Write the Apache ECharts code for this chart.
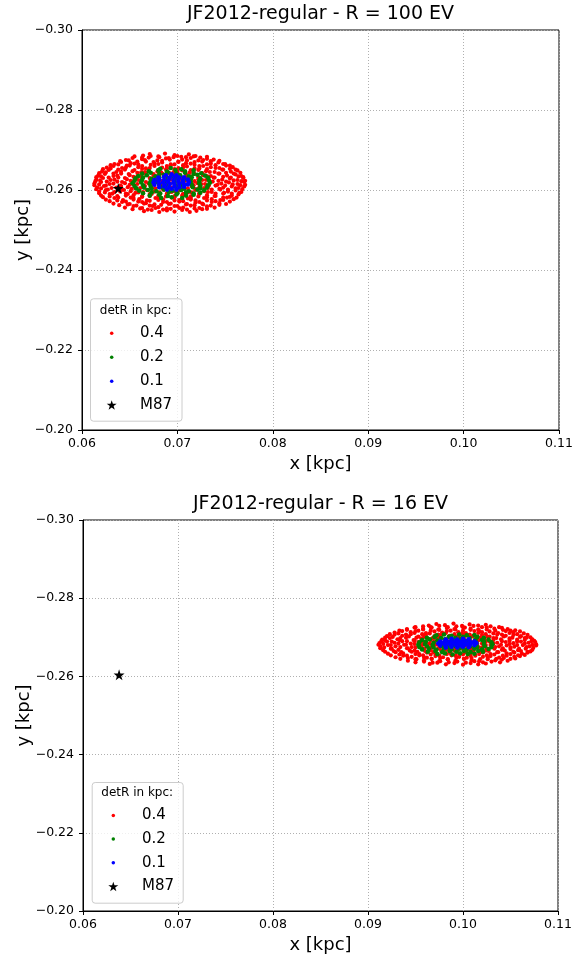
<!DOCTYPE html>
<html>
<head>
<meta charset="utf-8">
<script src="https://cdn.jsdelivr.net/npm/echarts@6/dist/echarts.min.js"></script>
<style>html,body{margin:0;padding:0;background:#fff}#c{width:573px;height:956px}</style>
</head>
<body>
<div id="c"></div>
<script>
// ---------- data (kpc) ----------
const titles = ['JF2012-regular - R = 100 EV', 'JF2012-regular - R = 16 EV'];
const seriesNames = ['0.4', '0.2', '0.1', 'M87'];
const xTicks = [0.06, 0.07, 0.08, 0.09, 0.10, 0.11];
const yTicks = [-0.30, -0.28, -0.26, -0.24, -0.22, -0.20];
const m87 = [[0.0638, -0.2604]];

// Top panel (R = 100 EV)
const red1 = [
[0.0664,-0.2686],[0.0671,-0.2690],[0.0680,-0.2684],[0.0687,-0.2691],[0.0697,-0.2687],[0.0704,-0.2683],[0.0712,-0.2689],[0.0719,-0.2685],
[0.0655,-0.2684],[0.0663,-0.2681],[0.0672,-0.2685],[0.0681,-0.2682],[0.0691,-0.2680],[0.0700,-0.2685],[0.0709,-0.2682],[0.0717,-0.2684],[0.0724,-0.2681],[0.0731,-0.2683],
[0.0646,-0.2675],[0.0653,-0.2680],[0.0663,-0.2677],[0.0670,-0.2681],[0.0679,-0.2674],[0.0688,-0.2679],[0.0696,-0.2682],[0.0705,-0.2676],[0.0714,-0.2680],[0.0722,-0.2674],[0.0731,-0.2678],[0.0738,-0.2676],
[0.0640,-0.2672],[0.0649,-0.2674],[0.0658,-0.2671],[0.0666,-0.2675],[0.0675,-0.2670],[0.0684,-0.2673],[0.0692,-0.2676],[0.0701,-0.2671],[0.0710,-0.2674],[0.0718,-0.2670],[0.0727,-0.2675],[0.0735,-0.2672],[0.0744,-0.2673],
[0.0634,-0.2665],[0.0641,-0.2670],[0.0651,-0.2667],[0.0659,-0.2664],[0.0667,-0.2671],[0.0676,-0.2666],[0.0684,-0.2669],[0.0693,-0.2664],[0.0701,-0.2670],[0.0709,-0.2667],[0.0718,-0.2663],[0.0726,-0.2671],[0.0735,-0.2666],[0.0743,-0.2669],[0.0750,-0.2665],
[0.0630,-0.2662],[0.0638,-0.2664],[0.0647,-0.2661],[0.0655,-0.2666],[0.0663,-0.2660],[0.0672,-0.2663],[0.0680,-0.2665],[0.0689,-0.2660],[0.0697,-0.2664],[0.0706,-0.2662],[0.0714,-0.2666],[0.0723,-0.2660],[0.0731,-0.2664],[0.0740,-0.2662],[0.0748,-0.2665],[0.0755,-0.2661],
[0.0626,-0.2656],[0.0633,-0.2660],[0.0642,-0.2655],[0.0650,-0.2661],[0.0659,-0.2657],[0.0667,-0.2654],[0.0676,-0.2660],[0.0684,-0.2656],[0.0693,-0.2661],[0.0701,-0.2655],[0.0710,-0.2659],[0.0718,-0.2654],[0.0727,-0.2660],[0.0735,-0.2657],[0.0744,-0.2655],[0.0751,-0.2661],[0.0758,-0.2657],
[0.0622,-0.2652],[0.0630,-0.2654],[0.0638,-0.2651],[0.0646,-0.2656],[0.0655,-0.2650],[0.0663,-0.2653],[0.0671,-0.2655],[0.0680,-0.2650],[0.0689,-0.2654],[0.0697,-0.2652],[0.0706,-0.2656],[0.0714,-0.2650],[0.0723,-0.2654],[0.0731,-0.2652],[0.0740,-0.2655],[0.0748,-0.2651],[0.0755,-0.2653],[0.0761,-0.2651],
[0.0621,-0.2646],[0.0628,-0.2650],[0.0636,-0.2645],[0.0645,-0.2651],[0.0653,-0.2647],[0.0662,-0.2644],[0.0670,-0.2650],[0.0679,-0.2646],[0.0688,-0.2651],[0.0696,-0.2645],[0.0705,-0.2649],[0.0713,-0.2644],[0.0722,-0.2650],[0.0730,-0.2647],[0.0739,-0.2645],[0.0747,-0.2651],[0.0756,-0.2646],[0.0763,-0.2649],
[0.0618,-0.2642],[0.0625,-0.2644],[0.0633,-0.2641],[0.0641,-0.2646],[0.0649,-0.2640],[0.0658,-0.2643],[0.0666,-0.2645],[0.0675,-0.2640],[0.0683,-0.2644],[0.0692,-0.2642],[0.0700,-0.2646],[0.0709,-0.2640],[0.0717,-0.2644],[0.0726,-0.2642],[0.0734,-0.2645],[0.0743,-0.2641],[0.0751,-0.2643],[0.0759,-0.2641],[0.0766,-0.2643],
[0.0617,-0.2636],[0.0624,-0.2640],[0.0633,-0.2635],[0.0641,-0.2641],[0.0650,-0.2637],[0.0658,-0.2634],[0.0667,-0.2640],[0.0675,-0.2636],[0.0684,-0.2641],[0.0693,-0.2635],[0.0701,-0.2639],[0.0710,-0.2634],[0.0718,-0.2640],[0.0727,-0.2637],[0.0735,-0.2635],[0.0744,-0.2641],[0.0752,-0.2636],[0.0761,-0.2639],[0.0767,-0.2635],
[0.0615,-0.2632],[0.0620,-0.2634],[0.0628,-0.2631],[0.0637,-0.2636],[0.0645,-0.2630],[0.0654,-0.2633],[0.0662,-0.2635],[0.0671,-0.2630],[0.0679,-0.2634],[0.0688,-0.2632],[0.0697,-0.2636],[0.0705,-0.2630],[0.0714,-0.2634],[0.0722,-0.2632],[0.0731,-0.2635],[0.0739,-0.2631],[0.0748,-0.2633],[0.0756,-0.2631],[0.0764,-0.2634],[0.0769,-0.2632],
[0.0615,-0.2626],[0.0622,-0.2630],[0.0630,-0.2625],[0.0638,-0.2631],[0.0647,-0.2627],[0.0655,-0.2624],[0.0663,-0.2630],[0.0672,-0.2626],[0.0680,-0.2631],[0.0688,-0.2625],[0.0697,-0.2629],[0.0705,-0.2624],[0.0713,-0.2630],[0.0722,-0.2627],[0.0730,-0.2625],[0.0738,-0.2631],[0.0747,-0.2626],[0.0755,-0.2629],[0.0763,-0.2625],[0.0769,-0.2630],
[0.0614,-0.2622],[0.0619,-0.2624],[0.0626,-0.2621],[0.0634,-0.2626],[0.0642,-0.2620],[0.0651,-0.2623],[0.0659,-0.2625],[0.0667,-0.2620],[0.0676,-0.2624],[0.0684,-0.2622],[0.0693,-0.2626],[0.0701,-0.2620],[0.0709,-0.2624],[0.0718,-0.2622],[0.0726,-0.2625],[0.0734,-0.2621],[0.0743,-0.2623],[0.0751,-0.2621],[0.0759,-0.2624],[0.0767,-0.2622],[0.0771,-0.2623],
[0.0613,-0.2616],[0.0620,-0.2620],[0.0629,-0.2615],[0.0637,-0.2621],[0.0645,-0.2617],[0.0654,-0.2614],[0.0662,-0.2620],[0.0670,-0.2616],[0.0679,-0.2621],[0.0687,-0.2615],[0.0696,-0.2619],[0.0704,-0.2614],[0.0712,-0.2620],[0.0721,-0.2617],[0.0729,-0.2615],[0.0737,-0.2621],[0.0746,-0.2616],[0.0754,-0.2619],[0.0763,-0.2615],[0.0770,-0.2620],
[0.0613,-0.2612],[0.0618,-0.2614],[0.0625,-0.2611],[0.0633,-0.2616],[0.0641,-0.2610],[0.0650,-0.2613],[0.0658,-0.2615],[0.0666,-0.2610],[0.0675,-0.2614],[0.0683,-0.2612],[0.0692,-0.2616],[0.0700,-0.2610],[0.0708,-0.2614],[0.0717,-0.2612],[0.0725,-0.2615],[0.0733,-0.2611],[0.0742,-0.2613],[0.0750,-0.2611],[0.0758,-0.2614],[0.0766,-0.2612],[0.0771,-0.2613],
[0.0616,-0.2606],[0.0623,-0.2610],[0.0631,-0.2605],[0.0640,-0.2611],[0.0648,-0.2607],[0.0656,-0.2604],[0.0665,-0.2610],[0.0673,-0.2606],[0.0681,-0.2611],[0.0690,-0.2605],[0.0698,-0.2609],[0.0707,-0.2604],[0.0715,-0.2610],[0.0723,-0.2607],[0.0732,-0.2605],[0.0740,-0.2611],[0.0748,-0.2606],[0.0757,-0.2609],[0.0764,-0.2605],[0.0770,-0.2609],
[0.0615,-0.2602],[0.0620,-0.2604],[0.0627,-0.2601],[0.0636,-0.2606],[0.0644,-0.2600],[0.0652,-0.2603],[0.0661,-0.2605],[0.0669,-0.2600],[0.0677,-0.2604],[0.0686,-0.2602],[0.0694,-0.2606],[0.0703,-0.2600],[0.0711,-0.2604],[0.0719,-0.2602],[0.0728,-0.2605],[0.0736,-0.2601],[0.0744,-0.2603],[0.0753,-0.2601],[0.0761,-0.2604],[0.0768,-0.2602],
[0.0618,-0.2596],[0.0625,-0.2600],[0.0634,-0.2595],[0.0642,-0.2601],[0.0651,-0.2597],[0.0659,-0.2594],[0.0668,-0.2600],[0.0676,-0.2596],[0.0685,-0.2601],[0.0694,-0.2595],[0.0702,-0.2599],[0.0711,-0.2594],[0.0719,-0.2600],[0.0728,-0.2597],[0.0736,-0.2595],[0.0745,-0.2601],[0.0753,-0.2596],[0.0761,-0.2599],[0.0767,-0.2595],
[0.0618,-0.2592],[0.0624,-0.2594],[0.0632,-0.2591],[0.0640,-0.2596],[0.0648,-0.2590],[0.0656,-0.2593],[0.0664,-0.2595],[0.0673,-0.2590],[0.0681,-0.2594],[0.0690,-0.2592],[0.0698,-0.2596],[0.0706,-0.2590],[0.0715,-0.2594],[0.0723,-0.2592],[0.0732,-0.2595],[0.0740,-0.2591],[0.0749,-0.2593],[0.0757,-0.2591],[0.0765,-0.2593],
[0.0620,-0.2586],[0.0629,-0.2590],[0.0637,-0.2585],[0.0646,-0.2591],[0.0654,-0.2587],[0.0663,-0.2584],[0.0671,-0.2590],[0.0680,-0.2586],[0.0689,-0.2591],[0.0697,-0.2585],[0.0706,-0.2589],[0.0714,-0.2584],[0.0723,-0.2590],[0.0731,-0.2587],[0.0740,-0.2585],[0.0748,-0.2591],[0.0757,-0.2586],[0.0764,-0.2589],
[0.0622,-0.2582],[0.0629,-0.2584],[0.0638,-0.2581],[0.0646,-0.2586],[0.0654,-0.2580],[0.0663,-0.2583],[0.0671,-0.2585],[0.0680,-0.2580],[0.0688,-0.2584],[0.0697,-0.2582],[0.0705,-0.2586],[0.0714,-0.2580],[0.0722,-0.2584],[0.0731,-0.2582],[0.0739,-0.2585],[0.0748,-0.2581],[0.0755,-0.2583],[0.0762,-0.2581],
[0.0625,-0.2576],[0.0634,-0.2580],[0.0643,-0.2575],[0.0651,-0.2581],[0.0660,-0.2577],[0.0668,-0.2574],[0.0677,-0.2580],[0.0685,-0.2576],[0.0694,-0.2581],[0.0702,-0.2575],[0.0711,-0.2579],[0.0719,-0.2574],[0.0728,-0.2580],[0.0736,-0.2577],[0.0745,-0.2575],[0.0752,-0.2581],[0.0759,-0.2577],
[0.0629,-0.2572],[0.0637,-0.2574],[0.0646,-0.2571],[0.0654,-0.2576],[0.0663,-0.2570],[0.0671,-0.2573],[0.0680,-0.2575],[0.0689,-0.2570],[0.0697,-0.2574],[0.0706,-0.2572],[0.0714,-0.2576],[0.0723,-0.2570],[0.0731,-0.2574],[0.0740,-0.2572],[0.0748,-0.2575],[0.0755,-0.2571],
[0.0633,-0.2566],[0.0642,-0.2570],[0.0650,-0.2565],[0.0659,-0.2571],[0.0667,-0.2567],[0.0676,-0.2564],[0.0685,-0.2570],[0.0693,-0.2566],[0.0702,-0.2571],[0.0710,-0.2565],[0.0719,-0.2569],[0.0727,-0.2564],[0.0736,-0.2570],[0.0744,-0.2567],[0.0751,-0.2565],
[0.0639,-0.2562],[0.0648,-0.2564],[0.0657,-0.2561],[0.0665,-0.2566],[0.0674,-0.2560],[0.0683,-0.2563],[0.0691,-0.2565],[0.0700,-0.2560],[0.0709,-0.2564],[0.0718,-0.2562],[0.0726,-0.2566],[0.0735,-0.2561],[0.0744,-0.2563],
[0.0645,-0.2556],[0.0654,-0.2560],[0.0663,-0.2555],[0.0671,-0.2561],[0.0680,-0.2557],[0.0689,-0.2554],[0.0697,-0.2560],[0.0706,-0.2556],[0.0714,-0.2561],[0.0723,-0.2555],[0.0731,-0.2559],[0.0739,-0.2556],
[0.0653,-0.2552],[0.0661,-0.2554],[0.0669,-0.2551],[0.0677,-0.2555],[0.0685,-0.2551],[0.0693,-0.2553],[0.0702,-0.2555],[0.0710,-0.2551],[0.0718,-0.2554],[0.0726,-0.2552],[0.0731,-0.2553],
[0.0665,-0.2547],[0.0673,-0.2550],[0.0681,-0.2545],[0.0689,-0.2549],[0.0697,-0.2546],[0.0705,-0.2550],[0.0713,-0.2545],[0.0720,-0.2548]
];
const green1 = [
[0.0682,-0.2653],[0.0693,-0.2655],[0.0704,-0.2652],
[0.0670,-0.2647],[0.0680,-0.2649],[0.0689,-0.2646],[0.0698,-0.2650],[0.0708,-0.2647],[0.0717,-0.2649],
[0.0663,-0.2641],[0.0672,-0.2643],[0.0681,-0.2640],[0.0690,-0.2644],[0.0699,-0.2641],[0.0708,-0.2643],[0.0717,-0.2640],[0.0725,-0.2642],
[0.0659,-0.2635],[0.0668,-0.2637],[0.0677,-0.2634],[0.0686,-0.2638],[0.0694,-0.2635],[0.0703,-0.2637],[0.0712,-0.2634],[0.0721,-0.2638],[0.0729,-0.2636],
[0.0656,-0.2629],[0.0664,-0.2631],[0.0673,-0.2628],[0.0681,-0.2632],[0.0690,-0.2629],[0.0698,-0.2631],[0.0707,-0.2628],[0.0715,-0.2632],[0.0724,-0.2629],[0.0732,-0.2631],
[0.0655,-0.2623],[0.0663,-0.2625],[0.0672,-0.2622],[0.0680,-0.2626],[0.0689,-0.2623],[0.0697,-0.2625],[0.0706,-0.2622],[0.0714,-0.2626],[0.0723,-0.2623],[0.0733,-0.2625],
[0.0653,-0.2617],[0.0662,-0.2619],[0.0671,-0.2616],[0.0679,-0.2620],[0.0688,-0.2617],[0.0697,-0.2619],[0.0705,-0.2616],[0.0714,-0.2620],[0.0723,-0.2617],[0.0734,-0.2618],
[0.0655,-0.2610],[0.0664,-0.2612],[0.0672,-0.2609],[0.0681,-0.2613],[0.0689,-0.2610],[0.0698,-0.2612],[0.0706,-0.2609],[0.0715,-0.2613],[0.0724,-0.2610],[0.0732,-0.2612],
[0.0657,-0.2604],[0.0665,-0.2606],[0.0673,-0.2603],[0.0682,-0.2607],[0.0690,-0.2604],[0.0699,-0.2606],[0.0707,-0.2603],[0.0716,-0.2607],[0.0724,-0.2604],[0.0731,-0.2606],
[0.0660,-0.2598],[0.0669,-0.2600],[0.0678,-0.2597],[0.0686,-0.2601],[0.0695,-0.2598],[0.0704,-0.2600],[0.0712,-0.2597],[0.0721,-0.2601],[0.0728,-0.2599],
[0.0664,-0.2592],[0.0673,-0.2594],[0.0682,-0.2591],[0.0691,-0.2595],[0.0700,-0.2592],[0.0709,-0.2594],[0.0717,-0.2591],[0.0724,-0.2593],
[0.0671,-0.2586],[0.0681,-0.2588],[0.0690,-0.2585],[0.0699,-0.2589],[0.0709,-0.2586],[0.0717,-0.2588],
[0.0683,-0.2580],[0.0694,-0.2582],[0.0705,-0.2580]
];
const blue1 = [
[0.0688,-0.2637],[0.0694,-0.2639],[0.0699,-0.2637],
[0.0680,-0.2631],[0.0686,-0.2633],[0.0692,-0.2631],[0.0697,-0.2633],[0.0702,-0.2631],[0.0707,-0.2632],
[0.0676,-0.2625],[0.0681,-0.2627],[0.0686,-0.2625],[0.0691,-0.2627],[0.0696,-0.2625],[0.0701,-0.2627],[0.0706,-0.2625],[0.0711,-0.2626],
[0.0675,-0.2619],[0.0680,-0.2621],[0.0685,-0.2619],[0.0690,-0.2621],[0.0696,-0.2619],[0.0701,-0.2621],[0.0706,-0.2619],[0.0712,-0.2620],
[0.0676,-0.2613],[0.0681,-0.2615],[0.0687,-0.2613],[0.0692,-0.2615],[0.0697,-0.2613],[0.0702,-0.2615],[0.0707,-0.2613],[0.0711,-0.2614],
[0.0681,-0.2607],[0.0686,-0.2609],[0.0691,-0.2607],[0.0697,-0.2609],[0.0702,-0.2607],[0.0707,-0.2608],
[0.0689,-0.2601],[0.0694,-0.2603],[0.0699,-0.2601]
];

// Bottom panel (R = 16 EV)
const red2 = [
[0.0964,-0.2730],[0.0972,-0.2734],[0.0981,-0.2731],[0.0990,-0.2735],[0.0999,-0.2729],[0.1007,-0.2733],[0.1016,-0.2730],[0.1024,-0.2732],
[0.0950,-0.2726],[0.0958,-0.2728],[0.0967,-0.2725],[0.0975,-0.2729],[0.0984,-0.2726],[0.0993,-0.2728],[0.1002,-0.2725],[0.1011,-0.2729],[0.1020,-0.2726],[0.1029,-0.2728],[0.1038,-0.2726],
[0.0941,-0.2721],[0.0949,-0.2725],[0.0958,-0.2722],[0.0966,-0.2726],[0.0974,-0.2720],[0.0983,-0.2724],[0.0991,-0.2721],[0.1000,-0.2726],[0.1008,-0.2722],[0.1016,-0.2720],[0.1025,-0.2725],[0.1033,-0.2722],[0.1041,-0.2724],[0.1047,-0.2721],
[0.0933,-0.2717],[0.0941,-0.2719],[0.0950,-0.2716],[0.0958,-0.2720],[0.0966,-0.2717],[0.0975,-0.2719],[0.0983,-0.2716],[0.0992,-0.2720],[0.1000,-0.2717],[0.1008,-0.2719],[0.1017,-0.2716],[0.1025,-0.2720],[0.1034,-0.2717],[0.1042,-0.2719],[0.1050,-0.2717],[0.1055,-0.2718],
[0.0928,-0.2712],[0.0936,-0.2716],[0.0945,-0.2713],[0.0953,-0.2717],[0.0961,-0.2711],[0.0970,-0.2715],[0.0978,-0.2712],[0.0987,-0.2717],[0.0995,-0.2713],[0.1003,-0.2711],[0.1012,-0.2716],[0.1020,-0.2713],[0.1028,-0.2715],[0.1037,-0.2711],[0.1045,-0.2716],[0.1053,-0.2713],[0.1060,-0.2715],
[0.0923,-0.2708],[0.0932,-0.2710],[0.0940,-0.2707],[0.0949,-0.2711],[0.0957,-0.2708],[0.0965,-0.2710],[0.0974,-0.2707],[0.0982,-0.2711],[0.0991,-0.2708],[0.0999,-0.2710],[0.1007,-0.2707],[0.1016,-0.2711],[0.1024,-0.2708],[0.1032,-0.2710],[0.1041,-0.2707],[0.1049,-0.2711],[0.1057,-0.2708],[0.1064,-0.2710],
[0.0920,-0.2703],[0.0928,-0.2707],[0.0936,-0.2704],[0.0945,-0.2708],[0.0953,-0.2702],[0.0961,-0.2706],[0.0970,-0.2703],[0.0978,-0.2708],[0.0986,-0.2704],[0.0995,-0.2702],[0.1003,-0.2707],[0.1011,-0.2704],[0.1020,-0.2706],[0.1028,-0.2702],[0.1036,-0.2707],[0.1045,-0.2704],[0.1053,-0.2706],[0.1061,-0.2703],[0.1068,-0.2706],
[0.0918,-0.2699],[0.0926,-0.2701],[0.0934,-0.2698],[0.0943,-0.2702],[0.0951,-0.2699],[0.0959,-0.2701],[0.0968,-0.2698],[0.0976,-0.2702],[0.0985,-0.2699],[0.0993,-0.2701],[0.1001,-0.2698],[0.1010,-0.2702],[0.1018,-0.2699],[0.1026,-0.2701],[0.1035,-0.2698],[0.1043,-0.2702],[0.1052,-0.2699],[0.1060,-0.2701],[0.1067,-0.2699],[0.1071,-0.2700],
[0.0915,-0.2694],[0.0923,-0.2698],[0.0931,-0.2695],[0.0940,-0.2699],[0.0948,-0.2693],[0.0956,-0.2697],[0.0965,-0.2694],[0.0973,-0.2699],[0.0982,-0.2695],[0.0990,-0.2693],[0.0998,-0.2698],[0.1007,-0.2695],[0.1015,-0.2697],[0.1023,-0.2693],[0.1032,-0.2698],[0.1040,-0.2695],[0.1049,-0.2697],[0.1057,-0.2694],[0.1065,-0.2698],[0.1073,-0.2695],
[0.0914,-0.2690],[0.0918,-0.2692],[0.0925,-0.2689],[0.0933,-0.2693],[0.0941,-0.2690],[0.0949,-0.2692],[0.0957,-0.2689],[0.0966,-0.2693],[0.0974,-0.2690],[0.0982,-0.2692],[0.0991,-0.2689],[0.0999,-0.2693],[0.1007,-0.2690],[0.1016,-0.2692],[0.1024,-0.2689],[0.1032,-0.2693],[0.1041,-0.2690],[0.1049,-0.2692],[0.1057,-0.2689],[0.1065,-0.2693],[0.1072,-0.2690],[0.1075,-0.2691],
[0.0912,-0.2685],[0.0920,-0.2689],[0.0928,-0.2686],[0.0936,-0.2690],[0.0945,-0.2684],[0.0953,-0.2688],[0.0961,-0.2685],[0.0970,-0.2690],[0.0978,-0.2686],[0.0986,-0.2684],[0.0995,-0.2689],[0.1003,-0.2686],[0.1011,-0.2688],[0.1020,-0.2684],[0.1028,-0.2689],[0.1036,-0.2686],[0.1045,-0.2688],[0.1053,-0.2685],[0.1061,-0.2689],[0.1069,-0.2686],[0.1076,-0.2688],
[0.0911,-0.2681],[0.0916,-0.2683],[0.0924,-0.2680],[0.0932,-0.2684],[0.0940,-0.2681],[0.0949,-0.2683],[0.0957,-0.2680],[0.0965,-0.2684],[0.0974,-0.2681],[0.0982,-0.2683],[0.0990,-0.2680],[0.0999,-0.2684],[0.1007,-0.2681],[0.1015,-0.2683],[0.1024,-0.2680],[0.1032,-0.2684],[0.1040,-0.2681],[0.1049,-0.2683],[0.1057,-0.2680],[0.1065,-0.2684],[0.1073,-0.2681],[0.1077,-0.2682],
[0.0913,-0.2676],[0.0921,-0.2680],[0.0929,-0.2677],[0.0938,-0.2681],[0.0946,-0.2675],[0.0954,-0.2679],[0.0963,-0.2676],[0.0971,-0.2681],[0.0979,-0.2677],[0.0988,-0.2675],[0.0996,-0.2680],[0.1004,-0.2677],[0.1013,-0.2679],[0.1021,-0.2675],[0.1029,-0.2680],[0.1038,-0.2677],[0.1046,-0.2679],[0.1054,-0.2676],[0.1063,-0.2680],[0.1070,-0.2677],[0.1077,-0.2679],
[0.0913,-0.2672],[0.0917,-0.2674],[0.0925,-0.2671],[0.0934,-0.2675],[0.0942,-0.2672],[0.0950,-0.2674],[0.0959,-0.2671],[0.0967,-0.2675],[0.0975,-0.2672],[0.0984,-0.2674],[0.0992,-0.2671],[0.1000,-0.2675],[0.1009,-0.2672],[0.1017,-0.2674],[0.1025,-0.2671],[0.1034,-0.2675],[0.1042,-0.2672],[0.1050,-0.2674],[0.1059,-0.2671],[0.1067,-0.2675],[0.1074,-0.2673],
[0.0916,-0.2667],[0.0924,-0.2671],[0.0932,-0.2668],[0.0941,-0.2672],[0.0949,-0.2666],[0.0957,-0.2670],[0.0966,-0.2667],[0.0974,-0.2672],[0.0983,-0.2668],[0.0991,-0.2666],[0.0999,-0.2671],[0.1008,-0.2668],[0.1016,-0.2670],[0.1024,-0.2666],[0.1033,-0.2671],[0.1041,-0.2668],[0.1050,-0.2670],[0.1058,-0.2667],[0.1066,-0.2671],[0.1073,-0.2668],
[0.0918,-0.2663],[0.0927,-0.2665],[0.0935,-0.2662],[0.0944,-0.2666],[0.0952,-0.2663],[0.0960,-0.2665],[0.0969,-0.2662],[0.0977,-0.2666],[0.0986,-0.2663],[0.0994,-0.2665],[0.1002,-0.2662],[0.1011,-0.2666],[0.1019,-0.2663],[0.1027,-0.2665],[0.1036,-0.2662],[0.1044,-0.2666],[0.1053,-0.2663],[0.1061,-0.2665],[0.1068,-0.2663],[0.1071,-0.2664],
[0.0921,-0.2658],[0.0929,-0.2662],[0.0937,-0.2659],[0.0946,-0.2663],[0.0954,-0.2657],[0.0962,-0.2661],[0.0971,-0.2658],[0.0979,-0.2663],[0.0987,-0.2659],[0.0996,-0.2657],[0.1004,-0.2662],[0.1012,-0.2659],[0.1021,-0.2661],[0.1029,-0.2657],[0.1037,-0.2662],[0.1046,-0.2659],[0.1054,-0.2661],[0.1062,-0.2658],[0.1068,-0.2661],
[0.0924,-0.2654],[0.0933,-0.2656],[0.0941,-0.2653],[0.0950,-0.2657],[0.0958,-0.2654],[0.0966,-0.2656],[0.0975,-0.2653],[0.0983,-0.2657],[0.0992,-0.2654],[0.1000,-0.2656],[0.1008,-0.2653],[0.1017,-0.2657],[0.1025,-0.2654],[0.1033,-0.2656],[0.1042,-0.2653],[0.1050,-0.2657],[0.1058,-0.2654],[0.1065,-0.2655],
[0.0929,-0.2649],[0.0937,-0.2653],[0.0946,-0.2650],[0.0954,-0.2654],[0.0962,-0.2648],[0.0971,-0.2652],[0.0979,-0.2649],[0.0988,-0.2654],[0.0996,-0.2650],[0.1004,-0.2648],[0.1013,-0.2653],[0.1021,-0.2650],[0.1029,-0.2652],[0.1038,-0.2648],[0.1046,-0.2653],[0.1054,-0.2650],[0.1060,-0.2652],
[0.0934,-0.2645],[0.0942,-0.2647],[0.0951,-0.2644],[0.0959,-0.2648],[0.0967,-0.2645],[0.0976,-0.2647],[0.0984,-0.2644],[0.0993,-0.2648],[0.1001,-0.2645],[0.1009,-0.2647],[0.1018,-0.2644],[0.1026,-0.2648],[0.1035,-0.2645],[0.1043,-0.2647],[0.1050,-0.2645],[0.1055,-0.2646],
[0.0942,-0.2640],[0.0950,-0.2644],[0.0959,-0.2641],[0.0967,-0.2645],[0.0975,-0.2639],[0.0984,-0.2643],[0.0992,-0.2640],[0.1001,-0.2645],[0.1009,-0.2641],[0.1017,-0.2639],[0.1026,-0.2644],[0.1034,-0.2641],[0.1041,-0.2643],[0.1047,-0.2640],
[0.0950,-0.2636],[0.0959,-0.2638],[0.0968,-0.2635],[0.0976,-0.2639],[0.0985,-0.2636],[0.0994,-0.2638],[0.1003,-0.2635],[0.1012,-0.2639],[0.1021,-0.2636],[0.1030,-0.2638],[0.1039,-0.2636],
[0.0965,-0.2632],[0.0973,-0.2635],[0.0982,-0.2631],[0.0991,-0.2634],[0.1000,-0.2630],[0.1008,-0.2634],[0.1016,-0.2631],[0.1024,-0.2633]
];
const green2 = [
[0.0972,-0.2705],[0.0980,-0.2707],[0.0988,-0.2704],[0.0996,-0.2707],[0.1004,-0.2705],[0.1012,-0.2706],
[0.0962,-0.2699],[0.0970,-0.2701],[0.0977,-0.2698],[0.0985,-0.2701],[0.0992,-0.2699],[0.1000,-0.2701],[0.1007,-0.2698],[0.1015,-0.2701],[0.1022,-0.2699],
[0.0957,-0.2693],[0.0965,-0.2695],[0.0973,-0.2692],[0.0981,-0.2695],[0.0989,-0.2693],[0.0997,-0.2695],[0.1005,-0.2692],[0.1013,-0.2695],[0.1020,-0.2693],[0.1027,-0.2694],
[0.0954,-0.2687],[0.0961,-0.2689],[0.0969,-0.2686],[0.0976,-0.2689],[0.0984,-0.2687],[0.0991,-0.2689],[0.0999,-0.2686],[0.1007,-0.2689],[0.1014,-0.2687],[0.1022,-0.2689],[0.1030,-0.2687],
[0.0953,-0.2681],[0.0960,-0.2683],[0.0968,-0.2680],[0.0976,-0.2683],[0.0983,-0.2681],[0.0991,-0.2683],[0.0999,-0.2680],[0.1007,-0.2683],[0.1014,-0.2681],[0.1022,-0.2683],[0.1031,-0.2682],
[0.0954,-0.2675],[0.0962,-0.2677],[0.0969,-0.2674],[0.0977,-0.2677],[0.0985,-0.2675],[0.0992,-0.2677],[0.1000,-0.2674],[0.1008,-0.2677],[0.1015,-0.2675],[0.1023,-0.2677],[0.1030,-0.2675],
[0.0957,-0.2669],[0.0964,-0.2671],[0.0972,-0.2668],[0.0980,-0.2671],[0.0988,-0.2669],[0.0996,-0.2671],[0.1004,-0.2668],[0.1012,-0.2671],[0.1020,-0.2669],[0.1027,-0.2670],
[0.0963,-0.2663],[0.0971,-0.2665],[0.0978,-0.2662],[0.0986,-0.2665],[0.0993,-0.2663],[0.1001,-0.2665],[0.1008,-0.2662],[0.1016,-0.2665],[0.1021,-0.2663],
[0.0973,-0.2657],[0.0981,-0.2659],[0.0989,-0.2656],[0.0997,-0.2659],[0.1005,-0.2657],[0.1012,-0.2658]
];
const blue2 = [
[0.0982,-0.2694],[0.0988,-0.2696],[0.0994,-0.2694],[0.1000,-0.2696],[0.1006,-0.2695],
[0.0976,-0.2689],[0.0981,-0.2691],[0.0986,-0.2689],[0.0992,-0.2691],[0.0997,-0.2689],[0.1002,-0.2691],[0.1007,-0.2689],[0.1012,-0.2690],
[0.0974,-0.2684],[0.0979,-0.2686],[0.0984,-0.2684],[0.0989,-0.2686],[0.0994,-0.2684],[0.0999,-0.2686],[0.1004,-0.2684],[0.1009,-0.2686],[0.1014,-0.2685],
[0.0976,-0.2679],[0.0981,-0.2681],[0.0987,-0.2679],[0.0992,-0.2681],[0.0997,-0.2679],[0.1002,-0.2681],[0.1007,-0.2679],[0.1012,-0.2680],
[0.0982,-0.2674],[0.0988,-0.2676],[0.0994,-0.2674],[0.1000,-0.2676],[0.1006,-0.2675]
];

const panels = [
  { red: red1, green: green1, blue: blue1 },
  { red: red2, green: green2, blue: blue2 }
];

// ---------- styling ----------
const FONT = 'DejaVu Sans';
const STAR = 'path://M50,0 L61.2,34.5 L97.6,34.5 L68.2,55.9 L79.4,90.5 L50,69.1 L20.6,90.5 L31.8,55.9 L2.4,34.5 L38.8,34.5 Z';
const colors = ['#ff0000', '#008000', '#0000ff', '#000000'];
const sizes = [4.2, 4.6, 4.6, 11];

const gridBoxes = [
  { left: 82, top: 30, width: 477, height: 400 },
  { left: 83, top: 520, width: 475, height: 391 }
];
const legendBoxes = [
  { left: 90, top: 298.3, width: 91.5, height: 122.4, titleY: 310.7, rowsTop: 321.3, rowH: 24, m87Top: 393, dotX: 111.7, textX: 140 },
  { left: 91.7, top: 782, width: 91, height: 120.7, titleY: 793, rowsTop: 803.7, rowH: 23.6, m87Top: 874.7, dotX: 113.3, textX: 142 }
];

function yFmt(v) { return (v < 0 ? '\u2212' : '') + Math.abs(v).toFixed(2); }

const grids = [], xAxes = [], yAxes = [], series = [], legends = [], titleArr = [], graphics = [];

panels.forEach(function (p, i) {
  const g = gridBoxes[i];
  grids.push(Object.assign({ show: true, borderColor: '#000', borderWidth: 1, backgroundColor: 'transparent', containLabel: false, outerBoundsMode: 'none' }, g));
  xAxes.push({
    type: 'value', gridIndex: i, min: xTicks[0], max: xTicks[xTicks.length - 1], interval: 0.01,
    name: 'x [kpc]', nameLocation: 'middle', nameGap: 25,
    nameTextStyle: { fontSize: 18, color: '#000', fontFamily: FONT },
    axisLine: { show: true, onZero: false, lineStyle: { color: '#000', width: 1 } },
    axisTick: { show: true, length: 4, inside: false, lineStyle: { color: '#000', width: 1 } },
    axisLabel: { show: true, fontSize: 12.5, color: '#000', fontFamily: FONT, margin: 7, formatter: function (v) { return v.toFixed(2); } },
    splitLine: { show: true, lineStyle: { color: '#b0b0b0', width: 1, type: [1, 2] } }
  });
  yAxes.push({
    type: 'value', gridIndex: i, inverse: true, min: yTicks[0], max: yTicks[yTicks.length - 1], interval: 0.02,
    name: 'y [kpc]', nameLocation: 'middle', nameGap: 50, nameRotate: 90, nameMoveOverlap: false,
    nameTextStyle: { fontSize: 18, color: '#000', fontFamily: FONT },
    axisLine: { show: true, onZero: false, lineStyle: { color: '#000', width: 1 } },
    axisTick: { show: true, length: 4, inside: false, lineStyle: { color: '#000', width: 1 } },
    axisLabel: { show: true, fontSize: 12.5, color: '#000', fontFamily: FONT, margin: 9, formatter: yFmt },
    splitLine: { show: true, lineStyle: { color: '#b0b0b0', width: 1, type: [1, 2] } }
  });
  const sets = [p.red, p.green, p.blue, m87];
  sets.forEach(function (d, k) {
    series.push({
      type: 'scatter', name: seriesNames[k], xAxisIndex: i, yAxisIndex: i, data: d,
      symbol: k === 3 ? STAR : 'circle', symbolSize: sizes[k],
      itemStyle: { color: colors[k], opacity: 1 },
      emphasis: { disabled: true }, silent: true, animation: false, z: 2 + k * 0.1
    });
  });
  titleArr.push({
    text: titles[i], left: g.left + g.width / 2, top: i === 0 ? 5 : 495, textAlign: 'center', padding: 0,
    textStyle: { fontSize: 19, fontWeight: 'normal', color: '#000', fontFamily: FONT }
  });
  const lb = legendBoxes[i];
  graphics.push({
    type: 'rect', left: lb.left, top: lb.top, z: 3,
    shape: { width: lb.width, height: lb.height, r: 3 },
    style: { fill: 'rgba(255,255,255,0.8)', stroke: '#cccccc', lineWidth: 1 }
  });
  graphics.push({
    type: 'text', x: lb.left + lb.width / 2, y: lb.titleY, z: 4,
    style: { text: 'detR in kpc:', font: '12px "' + FONT + '"', fill: '#000', textAlign: 'center', textVerticalAlign: 'middle' }
  });
  const dotW = 3.5, starW = 10;
  legends.push({
    orient: 'vertical', left: lb.dotX - dotW / 2, top: lb.rowsTop, padding: 0, itemGap: 0,
    itemWidth: dotW, itemHeight: dotW, selectedMode: false, data: seriesNames.slice(0, 3),
    textStyle: { fontSize: 15, color: '#000', fontFamily: FONT, lineHeight: lb.rowH, padding: [0, 0, 0, lb.textX - (lb.dotX + dotW / 2) - 5] }, z: 5
  });
  legends.push({
    orient: 'vertical', left: lb.dotX - starW / 2, top: lb.m87Top, padding: 0, itemGap: 0,
    itemWidth: starW, itemHeight: starW, selectedMode: false, data: [{ name: 'M87', icon: STAR }],
    textStyle: { fontSize: 15, color: '#000', fontFamily: FONT, lineHeight: lb.rowH, padding: [0, 0, 0, lb.textX - (lb.dotX + starW / 2) - 5] }, z: 5
  });
});

const chart = echarts.init(document.getElementById('c'), null, { renderer: 'canvas' });
chart.setOption({
  animation: false,
  backgroundColor: '#ffffff',
  textStyle: { fontFamily: FONT },
  title: titleArr,
  grid: grids,
  xAxis: xAxes,
  yAxis: yAxes,
  legend: legends,
  graphic: { elements: graphics },
  series: series
});
</script>
</body>
</html>
